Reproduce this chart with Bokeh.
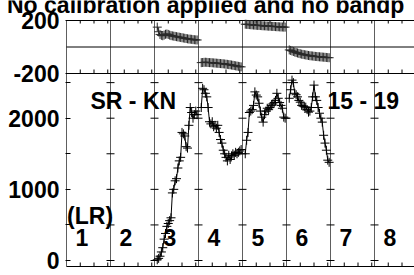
from bokeh.plotting import figure
from bokeh.models import Range1d, FixedTicker
from bokeh.core.properties import value
from bokeh.embed import file_html
from bokeh.resources import INLINE

# ---------------- data ----------------
title_text = "No calibration applied and no bandp"
baseline_label = "SR - KN"
time_label = "15 - 19"
stokes_label = "(LR)"
if_labels = ["1", "2", "3", "4", "5", "6", "7", "8"]
n_if = 8
n_chan = 32
channels = list(range(2, 32))
phase_ticks = [200, -200]
phase_tick_labels = ["200", "-200"]
amp_ticks = [0, 1000, 2000]
amp_tick_labels = ["0", "1000", "2000"]
amp_minor_ticks = [500, 1500, 2500]
chan_ticks = [10, 20, 30]
data_ifs = [3, 4, 5, 6]

phase_if3 = [150, 115, 95, 88, 85, 90, 96, 98, 95, 90, 86, 84, 82, 80, 78,
             76, 74, 72, 70, 68, 66, 64, 62, 60, 59, 58, 56, 55, 54, 53]
phase_if4 = [-118, -117, -116, -115, -116, -117, -118, -118, -119, -120,
             -121, -122, -123, -124, -125, -126, -127, -128, -130, -131,
             -133, -134, -136, -138, -140, -142, -144, -146, -148, -150]
phase_if5 = [172, 171, 170, 169, 168, 167, 166, 165, 164, 163, 163, 162, 161,
             160, 160, 159, 158, 157, 157, 156, 155, 155, 154, 153, 153, 152,
             151, 151, 150, 150]
phase_if6 = [-22, -26, -30, -34, -38, -42, -45, -48, -51, -54, -56, -58, -60,
             -62, -64, -66, -67, -68, -70, -71, -72, -73, -74, -75, -76, -77,
             -78, -79, -80, -81]

amp_if3 = [10, 30, 60, 120, 180, 300, 380, 480, 520, 560, 600, 950, 1000,
           1120, 1150, 1300, 1400, 1450, 1800, 1780, 1750, 1600, 1580, 1900,
           2150, 2080, 2000, 2050, 2100, 2050]
amp_if4 = [2150, 2420, 2400, 2350, 2300, 2150, 1950, 1920, 1950, 1880, 1900,
           1860, 1900, 1800, 1700, 1650, 1550, 1500, 1450, 1400, 1480, 1420,
           1470, 1500, 1480, 1520, 1500, 1520, 1540, 1560]
amp_if5 = [1500, 1690, 1800, 2080, 2100, 2120, 2180, 2370, 2325, 2300, 2210,
           2100, 2015, 1945, 2050, 2100, 2140, 2120, 2150, 2180, 2200, 2220,
           2250, 2350, 2280, 2220, 2180, 2140, 2015, 2000]
amp_if6 = [2280, 2400, 2535, 2500, 2350, 2330, 2300, 2250, 2225, 2180, 2170,
           2160, 2155, 2120, 2085, 2100, 2150, 2300, 2465, 2300, 2250, 2150,
           2070, 2000, 1945, 1760, 1650, 1550, 1410, 1380]

phases = [phase_if3, phase_if4, phase_if5, phase_if6]
amps = [amp_if3, amp_if4, amp_if5, amp_if6]

# ---------------- layout / style ----------------
FONT = "Liberation Sans"
FS = "23px"
W = 414
H = 275
LEFT = 66               # pixel of channel 0 (left edge of the panels)
PX_PER_CHAN = 1.375
SEP_COLOR = "#5e5e5e"
TEXT_DY = 6.5           # correction for where the svg text baseline lands

PH_TOP_PX = 20          # pixel of +200 deg
PH_BOT_PX = 73          # pixel of -200 deg
PH_PER_PX = 400 / (PH_BOT_PX - PH_TOP_PX)
AMP_ZERO_PX = 260       # pixel of amplitude 0
AMP_PER_PX = 1 / 0.07115
AXIS_PX = 266           # pixel of the channel axis line

x_lo = -LEFT / PX_PER_CHAN
x_hi = (W - LEFT) / PX_PER_CHAN
ph_hi = 200 + PH_TOP_PX * PH_PER_PX
ph_lo = 200 - (H - PH_TOP_PX) * PH_PER_PX
amp_hi = AMP_ZERO_PX * AMP_PER_PX
amp_lo = -(H - AMP_ZERO_PX) * AMP_PER_PX
axis_amp = -(AXIS_PX - AMP_ZERO_PX) * AMP_PER_PX


def phase_to_amp(ph):
    px = PH_TOP_PX + (200 - ph) / PH_PER_PX
    return round((AMP_ZERO_PX - px) * AMP_PER_PX, 2)


def text_y(baseline_px):
    return (AMP_ZERO_PX - (baseline_px - TEXT_DY)) * AMP_PER_PX


def text_x(left_px):
    return (left_px - LEFT) / PX_PER_CHAN


boundaries = [k * n_chan for k in range(n_if + 1)]
minor_x = [k * n_chan + t for k in range(n_if) for t in chan_ticks]


def gx(if_no, chans):
    return [(if_no - 1) * n_chan + c for c in chans]


p = figure(width=W, height=H, output_backend="svg", toolbar_location=None,
           x_range=Range1d(x_lo, x_hi), y_range=Range1d(amp_lo, amp_hi),
           x_axis_location=None, min_border=0)
p.extra_y_ranges = {"phase": Range1d(ph_lo, ph_hi)}
p.outline_line_color = None
p.xgrid.grid_line_color = None
p.ygrid.grid_line_color = None

# left axis (drawn at channel 0): amplitude ticks plus the phase panel's limits
ax = p.yaxis[0]
ax.fixed_location = boundaries[0]
ph_tick_pos = [phase_to_amp(t) for t in phase_ticks]
ax.ticker = FixedTicker(ticks=amp_ticks + ph_tick_pos, minor_ticks=amp_minor_ticks)
overrides = {t: s for t, s in zip(amp_ticks, amp_tick_labels)}
overrides.update({t: s for t, s in zip(ph_tick_pos, phase_tick_labels)})
ax.major_label_overrides = overrides
ax.major_label_text_font = FONT
ax.major_label_text_font_style = "bold"
ax.major_label_text_font_size = FS
ax.major_label_text_color = "black"
ax.major_label_standoff = 6
ax.major_tick_in = 4
ax.major_tick_out = 1
ax.minor_tick_in = 4
ax.minor_tick_out = 1
ax.major_tick_line_color = "black"
ax.minor_tick_line_color = "black"
ax.axis_line_color = None

txt_kw = dict(text_font=value(FONT), text_font_style="bold", text_font_size=FS,
              text_color="black", text_baseline="alphabetic", text_align="left")

# title (its top is cut off by the window, as in the original)
p.text(x=[text_x(6.5)], y=[text_y(10.5)], text=[title_text], **txt_kw)

# IF separators (left one is the value axis line)
sep_top = phase_to_amp(200)
p.segment(x0=boundaries, y0=[sep_top] * len(boundaries), x1=boundaries,
          y1=[axis_amp] * len(boundaries), line_color=SEP_COLOR, line_width=1)

# phase panel borders and zero line
for ph in [200, 0, -200]:
    p.segment(x0=[0], y0=[ph], x1=[x_hi], y1=[ph], y_range_name="phase",
              line_color="black", line_width=1)
p.segment(x0=minor_x, y0=[-200] * len(minor_x), x1=minor_x,
          y1=[-200 + 4 * PH_PER_PX] * len(minor_x), y_range_name="phase",
          line_color="black")
p.segment(x0=minor_x, y0=[200] * len(minor_x), x1=minor_x,
          y1=[200 - 3 * PH_PER_PX] * len(minor_x), y_range_name="phase",
          line_color="black")

# channel axis of the amplitude panel
p.segment(x0=[0], y0=[axis_amp], x1=[x_hi], y1=[axis_amp],
          line_color="black", line_width=1)
p.segment(x0=minor_x, y0=[axis_amp] * len(minor_x), x1=minor_x,
          y1=[axis_amp + 4 * AMP_PER_PX] * len(minor_x), line_color="black")

# amplitude tick crosses on each IF separator
all_amp = amp_ticks + amp_minor_ticks
sep_x = [b for b in boundaries[1:-1] for _ in all_amp]
sep_y = [t for _ in boundaries[1:-1] for t in all_amp]
p.scatter(sep_x, sep_y, marker="dash", size=8, line_color="black", line_width=1)

for if_no, ph, am in zip(data_ifs, phases, amps):
    xs = gx(if_no, channels)
    p.line(xs, ph, y_range_name="phase", line_color="black", line_width=1)
    p.scatter(xs, ph, y_range_name="phase", marker="cross", size=9,
              line_color="#2a2a2a", line_width=1)
    p.line(xs, am, line_color="black", line_width=1)
    p.scatter(xs, am, marker="cross", size=9, line_color="black", line_width=1)

# panel annotations
p.text(x=[k * n_chan + 6.5 for k in range(n_if)], y=[text_y(243)] * n_if,
       text=if_labels, **txt_kw)
p.text(x=[text_x(66.6)], y=[text_y(222)], text=[stokes_label], **txt_kw)
p.text(x=[text_x(90), text_x(327)], y=[text_y(107)] * 2,
       text=[baseline_label, time_label], **txt_kw)

open("out.html", "w").write(file_html(p, INLINE))
